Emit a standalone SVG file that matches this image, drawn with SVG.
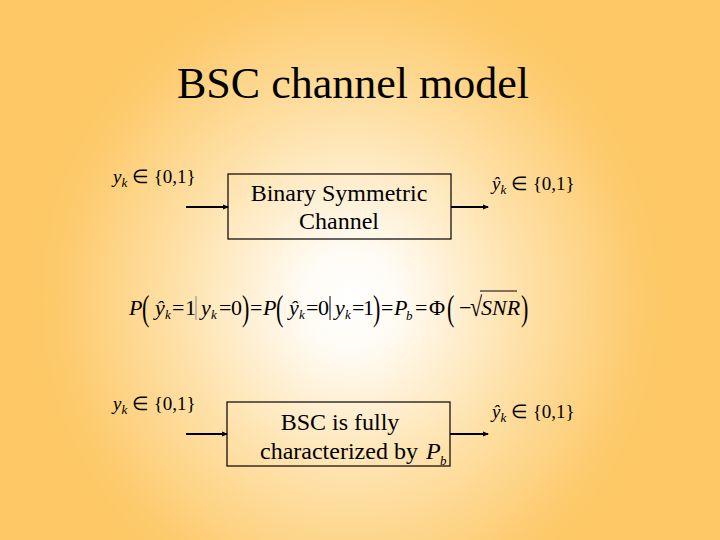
<svg xmlns="http://www.w3.org/2000/svg" width="720" height="540" viewBox="0 0 720 540">
<defs>
<radialGradient id="bg" gradientUnits="userSpaceOnUse" cx="350" cy="300" r="340" gradientTransform="translate(350 300) scale(0.95 1) translate(-350 -300)">
<stop offset="0" stop-color="#FFFFFF"/>
<stop offset="0.15" stop-color="#FFFBF4"/>
<stop offset="0.55" stop-color="#FEE0A6"/>
<stop offset="0.9" stop-color="#FDCA6C"/>
<stop offset="1" stop-color="#FDC865"/>
</radialGradient>
<marker id="ah" markerWidth="6" markerHeight="6" refX="5" refY="3" orient="auto" markerUnits="userSpaceOnUse">
<path d="M0,0.5 L6,3 L0,5.5 Z" fill="#000"/>
</marker>
<style>
text{font-family:'Liberation Serif','Times New Roman',serif;fill:#000}
.t{font-size:24px;text-anchor:middle}
.m{font-size:19px}
.i{font-style:italic}
.s{font-size:13px;font-style:italic}
.f{font-size:22px}
.box{fill:none;stroke:#000;stroke-width:1.2}
.ar{stroke:#000;stroke-width:2;fill:none;marker-end:url(#ah)}
</style>
</defs>
<rect width="720" height="540" fill="url(#bg)"/>
<text x="353" y="98" font-size="44" text-anchor="middle">BSC channel model</text>

<g id="connectors">
<line class="ar" x1="186" y1="207" x2="228" y2="207"/>
<line class="ar" x1="451" y1="207" x2="488" y2="207"/>
<line class="ar" x1="186" y1="434" x2="227" y2="434"/>
<line class="ar" x1="450" y1="434" x2="488" y2="434"/>
</g>

<g id="in1">
<text class="m" x="113" y="183"><tspan class="i">y</tspan><tspan class="s" dy="4">k</tspan><tspan dy="-4"> ∈ {0,1}</tspan></text>
</g>
<g id="bsc1">
<rect class="box" x="228" y="174" width="223" height="65"/>
<text class="t" x="339" y="201">Binary Symmetric</text>
<text class="t" x="339" y="229">Channel</text>
</g>
<g id="out1">
<text class="m" x="492" y="190"><tspan class="i">ŷ</tspan><tspan class="s" dy="4">k</tspan><tspan dy="-4"> ∈ {0,1}</tspan></text>
</g>

<g id="formula" class="f">
<text x="129" y="315" class="f i">P</text>
<text x="142" y="320" class="f" transform="translate(0 320) scale(1 1.65) translate(0 -320)">(</text>
<text x="155" y="315" class="f i">ŷ</text><text x="165" y="319" class="s">k</text>
<text x="172" y="315" class="f">=</text>
<text x="185" y="315" class="f">1</text>
<line x1="196" y1="296" x2="196" y2="320" stroke="#888" stroke-width="1"/>
<text x="201" y="315" class="f i">y</text><text x="211" y="319" class="s">k</text>
<text x="219" y="315" class="f">=</text>
<text x="231" y="315" class="f">0</text>
<text x="242" y="320" class="f" transform="translate(0 320) scale(1 1.65) translate(0 -320)">)</text>
<text x="250" y="315" class="f">=</text>
<text x="263" y="315" class="f i">P</text>
<text x="276" y="320" class="f" transform="translate(0 320) scale(1 1.65) translate(0 -320)">(</text>
<text x="289" y="315" class="f i">ŷ</text><text x="299" y="319" class="s">k</text>
<text x="306" y="315" class="f">=</text>
<text x="318" y="315" class="f">0</text>
<line x1="330" y1="296" x2="330" y2="320" stroke="#000" stroke-width="1"/>
<text x="335" y="315" class="f i">y</text><text x="345" y="319" class="s">k</text>
<text x="352" y="315" class="f">=</text>
<text x="363" y="315" class="f">1</text>
<text x="373" y="320" class="f" transform="translate(0 320) scale(1 1.65) translate(0 -320)">)</text>
<text x="381" y="315" class="f">=</text>
<text x="394" y="315" class="f i">P</text><text x="406" y="320" class="s">b</text>
<text x="415" y="315" class="f">=</text>
<text x="429" y="315" class="f">Φ</text>
<text x="447" y="320" class="f" transform="translate(0 320) scale(1 1.65) translate(0 -320)">(</text>
<text x="459" y="315" class="f">−</text>
<text x="470" y="316" class="f" transform="translate(0 316) scale(1 1.25) translate(0 -316)">√</text>
<line x1="480" y1="291" x2="517" y2="291" stroke="#000" stroke-width="1"/>
<text x="481" y="315" class="f i">SNR</text>
<text x="521" y="320" class="f" transform="translate(0 320) scale(1 1.65) translate(0 -320)">)</text>
</g>

<g id="in2">
<text class="m" x="113" y="410"><tspan class="i">y</tspan><tspan class="s" dy="4">k</tspan><tspan dy="-4"> ∈ {0,1}</tspan></text>
</g>
<g id="bsc2">
<rect class="box" x="227" y="402" width="223" height="64"/>
<text class="t" x="340" y="430">BSC is fully</text>
<text x="260" y="459" font-size="24">characterized by</text>
<text x="426" y="459" font-size="24" font-style="italic">P</text>
<text x="440" y="465" class="s">b</text>
</g>
<g id="out2">
<text class="m" x="492" y="418"><tspan class="i">ŷ</tspan><tspan class="s" dy="4">k</tspan><tspan dy="-4"> ∈ {0,1}</tspan></text>
</g>
</svg>
